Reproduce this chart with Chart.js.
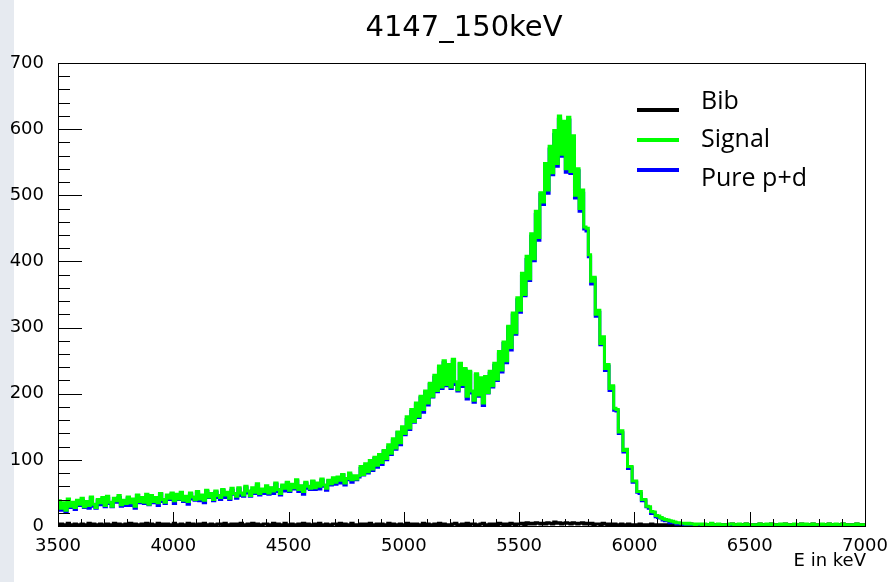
<!DOCTYPE html>
<html>
<head>
<meta charset="utf-8">
<title>4147_150keV</title>
<script src="https://cdn.jsdelivr.net/npm/chart.js@4.4.1/dist/chart.umd.min.js"></script>
<style>
  html, body { margin: 0; padding: 0; }
  body {
    width: 891px;
    height: 582px;
    overflow: hidden;
    background: linear-gradient(to right, #e6eaf0 0, #e6eaf0 14px, #ffffff 14px);
  }
  #wrap { position: relative; width: 891px; height: 582px; }
</style>
</head>
<body>
<div id="wrap">
  <canvas id="spectrum" width="891" height="582"></canvas>
</div>
<script>
// histogram binning (keV)
const binStart = 3500;
const binWidth = 10;
const xMin = 3500;
const xMax = 7000;
const yMin = 0;
const yMax = 700;

const seriesNames = ["Bib", "Signal", "Pure p+d"];

// counts per 10 keV bin (one row = 100 keV)
const signal = [
  38, 27, 35, 24, 41, 30, 36, 28, 39, 33,
  42, 29, 37, 31, 44, 33, 28, 40, 35, 43,
  31, 45, 36, 30, 42, 38, 46, 32, 39, 34,
  44, 35, 41, 30, 47, 37, 43, 36, 48, 33,
  46, 37, 43, 35, 49, 40, 36, 47, 42, 50,
  38, 48, 41, 51, 39, 45, 37, 50, 44, 40,
  52, 41, 47, 39, 54, 44, 49, 40, 53, 46,
  43, 55, 47, 51, 42, 57, 49, 45, 58, 50,
  47, 60, 53, 46, 58, 51, 64, 49, 56, 52,
  61, 50, 58, 53, 65, 55, 49, 62, 57, 66,
  54, 63, 58, 70, 55, 61, 52, 66, 60, 57,
  68, 58, 65, 60, 71, 62, 57, 69, 64, 73,
  66, 74, 69, 78, 65, 72, 80, 70, 76, 71,
  76, 90, 78, 94, 82, 99, 86, 104, 92, 108,
  96, 114, 102, 123, 110, 132, 118, 142, 126, 150,
  140, 165, 148, 176, 158, 186, 166, 196, 176, 204,
  186, 216, 196, 228, 205, 242, 210, 250, 214, 244,
  210, 252, 218, 206, 246, 214, 238, 196, 234, 204,
  190, 230, 198, 224, 186, 226, 202, 234, 212, 246,
  222, 264, 236, 278, 250, 302, 270, 322, 292, 345,
  326, 382, 350, 408, 374, 442, 404, 476, 436, 504,
  490, 548, 508, 574, 534, 598, 548, 620, 562, 612,
  540, 618, 536, 590, 500, 540, 480, 508, 452, 450,
  410, 370, 376, 320, 326, 276, 286, 238, 244, 208,
  212, 178, 176, 142, 144, 114, 116, 90, 90, 68,
  68, 52, 52, 40, 40, 30, 29, 22, 21, 16,
  15, 13, 11, 10, 9, 8, 7, 6, 5, 5,
  4, 4, 3, 4, 3, 3, 2, 3, 3, 2,
  3, 1, 2, 4, 1, 2, 3, 1, 2, 2,
  1, 3, 3, 1, 2, 3, 1, 2, 3, 1,
  2, 2, 2, 2, 3, 1, 2, 3, 1, 3,
  2, 1, 2, 3, 1, 3, 2, 1, 2, 3,
  1, 2, 3, 1, 3, 2, 1, 3, 2, 1,
  2, 3, 1, 2, 3, 1, 2, 3, 1, 2,
  3, 1, 2, 2, 2, 2, 3, 1, 2, 2
];

const purePd = [
  36, 24, 34, 22, 37, 28, 35, 25, 37, 31,
  39, 28, 35, 27, 42, 30, 27, 38, 32, 41,
  29, 42, 34, 29, 38, 36, 43, 30, 38, 31,
  42, 31, 39, 27, 46, 35, 40, 34, 44, 32,
  43, 35, 41, 31, 48, 37, 34, 44, 40, 48,
  34, 46, 40, 48, 37, 43, 33, 48, 41, 39,
  50, 38, 45, 35, 52, 43, 46, 38, 51, 43,
  40, 54, 43, 49, 40, 54, 48, 42, 56, 46,
  45, 58, 50, 45, 54, 49, 61, 47, 55, 49,
  58, 48, 57, 49, 63, 52, 47, 60, 53, 65,
  52, 60, 56, 68, 52, 60, 48, 64, 57, 55,
  67, 55, 63, 56, 69, 60, 54, 68, 62, 70,
  63, 72, 65, 77, 62, 70, 78, 66, 74, 70,
  74, 87, 77, 91, 80, 95, 84, 102, 89, 106,
  93, 113, 100, 119, 108, 129, 116, 141, 123, 148,
  138, 161, 146, 173, 157, 183, 164, 194, 172, 202,
  183, 214, 195, 225, 203, 238, 208, 247, 212, 242,
  208, 249, 214, 204, 245, 211, 236, 192, 232, 201,
  187, 228, 196, 221, 182, 224, 201, 231, 210, 243,
  220, 260, 233, 276, 247, 300, 266, 319, 290, 342,
  323, 378, 348, 403, 371, 438, 401, 471, 432, 501,
  486, 545, 503, 570, 531, 592, 544, 615, 559, 608,
  535, 614, 533, 585, 496, 537, 476, 503, 449, 446,
  407, 366, 374, 317, 323, 274, 282, 235, 242, 205,
  210, 175, 174, 140, 141, 112, 115, 87, 88, 66,
  66, 51, 49, 38, 38, 29, 27, 19, 20, 14,
  13, 12, 9, 8, 8, 5, 5, 5, 3, 3,
  3, 2, 1, 3, 0, 1, 1, 1, 1, 1,
  1, 0, 0, 1, 0, 0, 1, 0, 0, 0,
  0, 1, 0, 0, 0, 1, 0, 0, 0, 0,
  0, 0, 1, 0, 0, 0, 0, 1, 0, 0,
  0, 0, 0, 1, 0, 0, 0, 0, 0, 1,
  0, 0, 0, 0, 1, 0, 0, 0, 0, 0,
  0, 1, 0, 0, 0, 0, 0, 1, 0, 0,
  0, 0, 0, 0, 1, 0, 0, 0, 0, 0
];

const bib = [
  2, 3, 1, 2, 4, 2, 1, 3, 2, 2,
  3, 1, 2, 4, 2, 3, 1, 2, 3, 2,
  2, 3, 2, 1, 4, 2, 3, 2, 1, 3,
  2, 4, 2, 3, 1, 2, 3, 2, 4, 1,
  3, 2, 2, 4, 1, 3, 2, 3, 2, 2,
  4, 2, 1, 3, 2, 2, 4, 2, 3, 1,
  2, 3, 2, 4, 2, 1, 3, 2, 2, 3,
  3, 1, 4, 2, 2, 3, 1, 3, 2, 4,
  2, 2, 3, 1, 4, 2, 3, 2, 1, 3,
  3, 2, 1, 4, 2, 3, 2, 2, 4, 1,
  2, 3, 2, 2, 3, 1, 4, 2, 3, 2,
  1, 3, 2, 4, 2, 2, 3, 1, 2, 3,
  3, 2, 4, 1, 3, 2, 2, 4, 2, 1,
  2, 3, 1, 3, 2, 4, 2, 2, 3, 2,
  3, 1, 2, 4, 2, 3, 2, 1, 3, 2,
  2, 4, 2, 3, 1, 3, 2, 2, 4, 2,
  3, 2, 1, 3, 2, 4, 2, 3, 2, 2,
  2, 3, 4, 2, 1, 3, 2, 4, 2, 3,
  3, 2, 2, 3, 4, 2, 1, 3, 2, 3,
  2, 4, 3, 2, 3, 2, 4, 3, 2, 3,
  3, 4, 2, 5, 3, 4, 3, 5, 4, 3,
  4, 3, 5, 4, 3, 6, 4, 5, 3, 4,
  5, 4, 3, 5, 4, 3, 4, 5, 3, 4,
  3, 4, 2, 3, 3, 2, 4, 3, 2, 3,
  2, 3, 2, 2, 3, 2, 1, 3, 2, 2,
  2, 1, 3, 2, 2, 1, 2, 3, 1, 2,
  2, 1, 2, 2, 1, 3, 2, 1, 2, 2,
  1, 2, 2, 1, 3, 2, 1, 2, 2, 1,
  2, 1, 2, 3, 1, 2, 2, 1, 2, 2,
  1, 2, 3, 1, 2, 2, 1, 2, 3, 1,
  2, 2, 1, 2, 3, 1, 2, 2, 1, 3,
  2, 1, 2, 2, 1, 3, 2, 1, 2, 2,
  1, 2, 3, 1, 2, 2, 1, 3, 2, 1,
  2, 2, 1, 2, 3, 1, 2, 2, 1, 2,
  3, 1, 2, 2, 1, 2, 3, 1, 2, 2
];

// bin edges -> step points, last bin closed at its upper edge
function toSteps(counts) {
  const pts = counts.map((c, i) => ({ x: binStart + i * binWidth, y: c }));
  pts.push({ x: binStart + counts.length * binWidth, y: counts[counts.length - 1] });
  return pts;
}

const rootStyle = {
  id: "rootStyle",
  afterDraw(chart) {
    const { ctx, chartArea: a, scales } = chart;
    const x = scales.x, y = scales.y;
    ctx.save();
    ctx.strokeStyle = "#000";
    ctx.lineWidth = 1;

    // inward ticks like ROOT
    ctx.beginPath();
    for (let v = yMin; v <= yMax; v += 20) {
      const py = Math.round(y.getPixelForValue(v)) + 0.5;
      const len = v % 100 === 0 ? 24 : 12;
      ctx.moveTo(a.left, py);
      ctx.lineTo(a.left + len, py);
    }
    for (let v = xMin; v <= xMax; v += 100) {
      const px = Math.round(x.getPixelForValue(v)) + 0.5;
      const len = v % 500 === 0 ? 14 : 7;
      ctx.moveTo(px, a.bottom);
      ctx.lineTo(px, a.bottom - len);
    }
    ctx.stroke();

    // frame
    ctx.strokeRect(Math.round(a.left) + 0.5, Math.round(a.top) + 0.5,
      Math.round(a.right - a.left), Math.round(a.bottom - a.top));

    // title
    ctx.fillStyle = "#000";
    ctx.font = '29px "DejaVu Sans"';
    ctx.textAlign = "center";
    ctx.textBaseline = "alphabetic";
    ctx.fillText("4147_150keV", 464, 36);

    // axis title
    ctx.font = '18px "DejaVu Sans"';
    ctx.textAlign = "right";
    ctx.fillText("E in keV", a.right + 1, 566);

    // legend pasted on the slide
    const legendColors = ["#000000", "#00ff00", "#0000ff"];
    const lineY = [110, 140, 170];
    const textY = [109, 147, 186];
    ctx.lineWidth = 4;
    ctx.textAlign = "left";
    ctx.font = '25px "Open Sans"';
    seriesNames.forEach((name, i) => {
      ctx.strokeStyle = legendColors[i];
      ctx.beginPath();
      ctx.moveTo(637, lineY[i]);
      ctx.lineTo(679, lineY[i]);
      ctx.stroke();
      ctx.fillText(name, 701, textY[i]);
    });
    ctx.restore();
  }
};

const ctx = document.getElementById("spectrum").getContext("2d");

new Chart(ctx, {
  type: "line",
  data: {
    datasets: [
      {
        label: "Signal",
        data: toSteps(signal),
        borderColor: "#00ff00",
        borderWidth: 3,
      },
      {
        label: "Pure p+d",
        data: toSteps(purePd),
        borderColor: "#0000ff",
        borderWidth: 3,
      },
      {
        label: "Bib",
        data: toSteps(bib),
        borderColor: "#000000",
        borderWidth: 3,
      },
    ],
  },
  options: {
    responsive: false,
    animation: false,
    devicePixelRatio: 1,
    datasets: {
      line: {
        stepped: "before",
        pointRadius: 0,
        fill: false,
        tension: 0,
        borderJoinStyle: "miter",
      },
    },
    layout: {
      padding: { left: 0, right: 26, top: 63, bottom: 0 },
    },
    plugins: {
      legend: { display: false },
      tooltip: { enabled: false },
      title: { display: false },
    },
    scales: {
      x: {
        type: "linear",
        min: xMin,
        max: xMax,
        grid: { display: false },
        border: { display: false },
        ticks: {
          stepSize: 500,
          color: "#000",
          padding: 2,
          maxRotation: 0,
          font: { family: "DejaVu Sans", size: 18 },
          callback: (v) => String(v),
        },
        afterFit(scale) {
          scale.height = 56;
        },
      },
      y: {
        min: yMin,
        max: yMax,
        grid: { display: false },
        border: { display: false },
        ticks: {
          stepSize: 100,
          color: "#000",
          padding: 6,
          font: { family: "DejaVu Sans", size: 18 },
          callback: (v) => String(v),
        },
        afterFit(scale) {
          scale.width = 58;
        },
      },
    },
  },
  plugins: [rootStyle],
});
</script>
</body>
</html>
